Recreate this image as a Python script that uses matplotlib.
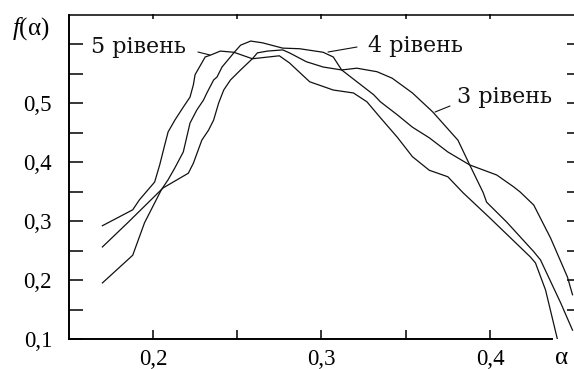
import numpy as np
import matplotlib
matplotlib.use("Agg")
import matplotlib.pyplot as plt

# Multifractal spectra f(alpha) for three decomposition levels
alpha5 = [0.170, 0.188, 0.192, 0.201, 0.204, 0.207, 0.209, 0.213, 0.218, 0.222,
          0.224, 0.225, 0.231, 0.234, 0.240, 0.248, 0.259, 0.275, 0.281, 0.293,
          0.307, 0.319, 0.327, 0.335, 0.345, 0.354, 0.364, 0.375, 0.384, 0.400,
          0.424, 0.427, 0.433, 0.440]
f5 = [0.292, 0.319, 0.336, 0.366, 0.395, 0.429, 0.451, 0.471, 0.493, 0.510,
      0.531, 0.548, 0.578, 0.581, 0.588, 0.586, 0.575, 0.580, 0.568, 0.536,
      0.522, 0.517, 0.502, 0.475, 0.442, 0.409, 0.386, 0.375, 0.348, 0.305,
      0.239, 0.229, 0.183, 0.100]

alpha4 = [0.170, 0.188, 0.195, 0.205, 0.209, 0.213, 0.218, 0.222, 0.226, 0.230,
          0.232, 0.236, 0.238, 0.241, 0.248, 0.252, 0.258, 0.265, 0.277, 0.287,
          0.301, 0.307, 0.312, 0.331, 0.335, 0.345, 0.354, 0.364, 0.375, 0.388,
          0.404, 0.414, 0.418, 0.426, 0.436, 0.446, 0.449]
f4 = [0.195, 0.242, 0.297, 0.353, 0.370, 0.390, 0.417, 0.466, 0.488, 0.505,
      0.517, 0.539, 0.544, 0.561, 0.585, 0.598, 0.605, 0.602, 0.593, 0.592,
      0.586, 0.578, 0.556, 0.514, 0.502, 0.480, 0.459, 0.441, 0.417, 0.395,
      0.378, 0.358, 0.349, 0.327, 0.271, 0.205, 0.175]

alpha3 = [0.170, 0.185, 0.206, 0.221, 0.224, 0.229, 0.233, 0.236, 0.239, 0.242,
          0.246, 0.252, 0.259, 0.262, 0.268, 0.277, 0.281, 0.291, 0.301, 0.312,
          0.321, 0.333, 0.342, 0.354, 0.366, 0.381, 0.388, 0.396, 0.398, 0.410,
          0.426, 0.430, 0.442, 0.449]
f3 = [0.256, 0.297, 0.356, 0.381, 0.398, 0.437, 0.454, 0.471, 0.500, 0.522,
      0.539, 0.556, 0.575, 0.585, 0.588, 0.590, 0.585, 0.570, 0.561, 0.556,
      0.559, 0.553, 0.542, 0.517, 0.485, 0.437, 0.395, 0.348, 0.332, 0.298,
      0.248, 0.234, 0.161, 0.115]

series_labels = ["5 рівень", "4 рівень", "3 рівень"]
y_ticks = [0.10, 0.15, 0.20, 0.25, 0.30, 0.35, 0.40, 0.45, 0.50, 0.55, 0.60]
y_labels = ["0,1", "", "0,2", "", "0,3", "", "0,4", "", "0,5", "", ""]
x_ticks = [0.20, 0.25, 0.30, 0.35, 0.40]
x_labels = ["0,2", "", "0,3", "", "0,4"]

plt.rcParams["mathtext.fontset"] = "custom"
plt.rcParams["mathtext.it"] = "Liberation Serif:italic"
plt.rcParams["mathtext.rm"] = "Liberation Serif"
serif = "Liberation Serif"

W, H = 574, 369
fig = plt.figure(figsize=(W / 100, H / 100), dpi=100)
ax = fig.add_axes([68.7 / W, (H - 339) / H, 505.5 / W, 324.5 / H])

ink = "#111111"
for a, f in [(alpha5, f5), (alpha4, f4), (alpha3, f3)]:
    ax.plot(a, f, color=ink, lw=0.9, solid_joinstyle="miter")

ax.set_xlim(0.15, 0.45)
ax.set_ylim(0.10, 0.65)

ax.set_yticks(y_ticks)
ax.set_yticklabels(y_labels, fontfamily=serif, fontsize=16.5)
ax.set_xticks(x_ticks)
ax.set_xticklabels(x_labels, fontfamily=serif, fontsize=16.5)
ax.tick_params(axis="y", direction="in", length=10, width=1.1, pad=12, color="black")
ax.tick_params(axis="x", direction="in", length=6.5, width=1.1, pad=7.5, color="black")

ax.spines["right"].set_visible(False)
ax.spines["left"].set_linewidth(1.4)
ax.spines["bottom"].set_linewidth(1.4)
ax.spines["top"].set_linewidth(1.1)
ax.spines["bottom"].set_bounds(0.15, 0.4368)

# short inward ticks along the top and right edges
top = ax.secondary_xaxis("top")
top.set_xticks(x_ticks)
top.tick_params(direction="in", length=3.6, width=1.1, labeltop=False)
top.spines["top"].set_visible(False)
right = ax.secondary_yaxis("right")
right.set_yticks(y_ticks[1:])
right.tick_params(direction="in", length=5, width=1.1, labelright=False)
right.spines["right"].set_visible(False)

# curve labels with short leader lines
label_font = dict(fontfamily="DejaVu Serif", fontsize=16, color=ink)
ax.text(0.1632, 0.5847, series_labels[0], ha="left", va="baseline", **label_font)
ax.text(0.3276, 0.5864, series_labels[1], ha="left", va="baseline", **label_font)
ax.text(0.3804, 0.5000, series_labels[2], ha="left", va="baseline", **label_font)
leader = dict(arrowstyle="-", lw=0.8, color=ink, shrinkA=0, shrinkB=0)
ax.annotate("", xy=(0.2338, 0.5814), xytext=(0.2267, 0.5864), arrowprops=leader)
ax.annotate("", xy=(0.3039, 0.5864), xytext=(0.3211, 0.5949), arrowprops=leader)
ax.annotate("", xy=(0.3674, 0.4847), xytext=(0.3763, 0.4949), arrowprops=leader)

fig.text(31 / W, 1 - 29 / H, r"$f$(α)", ha="center", va="center",
         fontfamily=serif, fontsize=18)
fig.text(562 / W, 1 - 358 / H, "α", ha="center", va="center",
         fontfamily=serif, fontsize=18)

fig.savefig("out.png", dpi=100)
